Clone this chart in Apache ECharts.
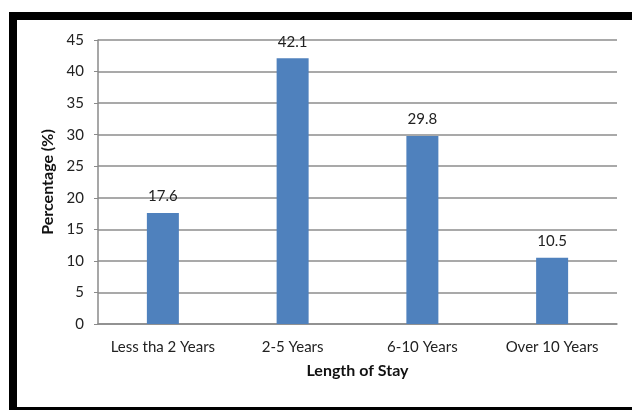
<!DOCTYPE html>
<html>
<head>
<meta charset="utf-8">
<script src="https://cdn.jsdelivr.net/npm/echarts@6/dist/echarts.min.js"></script>
<style>
  html, body { margin: 0; padding: 0; background: #fff; }
  #frame {
    position: absolute; left: 9px; top: 12px; width: 640px; height: 387px;
    border-left: 8px solid #000; border-top: 8px solid #000; border-bottom: 3px solid #000;
  }
  #chart { position: absolute; left: 0; top: 0; width: 632px; height: 410px; }
</style>
</head>
<body>
<div id="frame"></div>
<div id="chart"></div>
<script>
const categories = ['Less tha 2 Years', '2-5 Years', '6-10 Years', 'Over 10 Years'];
const percentages = [17.6, 42.1, 29.8, 10.5];
const yTicks = [0, 5, 10, 15, 20, 25, 30, 35, 40, 45];

const FONT = 'Lato';
const chart = echarts.init(document.getElementById('chart'), null, { renderer: 'canvas' });
chart.setOption({
  animation: false,
  backgroundColor: 'transparent',
  grid: { left: 98, right: 15, top: 40, bottom: 86 },
  xAxis: {
    type: 'category',
    data: categories,
    name: 'Length of Stay',
    nameLocation: 'middle',
    nameGap: 39,
    nameTextStyle: { fontFamily: FONT, fontWeight: 'bold', fontSize: 16, color: '#111' },
    axisLine: { lineStyle: { color: '#8a8a8a', width: 1.5 } },
    axisTick: { show: false },
    axisLabel: { interval: 0, fontFamily: FONT, fontSize: 15, color: '#222', margin: 16 }
  },
  yAxis: {
    type: 'value',
    min: yTicks[0],
    max: yTicks[yTicks.length - 1],
    interval: 5,
    name: 'Percentage (%)',
    nameLocation: 'middle',
    nameGap: 38,
    nameTextStyle: { fontFamily: FONT, fontWeight: 'bold', fontSize: 16, color: '#111' },
    axisLine: { show: true, lineStyle: { color: '#8a8a8a', width: 1.5 } },
    axisTick: { show: true, length: 4, lineStyle: { color: '#8a8a8a' } },
    splitLine: { lineStyle: { color: '#8c8c8c', width: 1.5 } },
    axisLabel: { fontFamily: FONT, fontSize: 15, color: '#222', margin: 14 }
  },
  series: [{
    type: 'bar',
    data: percentages,
    barWidth: 32,
    itemStyle: { color: '#4f81bd' },
    label: {
      show: true,
      position: 'top',
      distance: 9,
      fontFamily: FONT,
      fontSize: 15,
      color: '#222',
      formatter: p => p.value.toFixed(1)
    }
  }]
});
</script>
</body>
</html>
